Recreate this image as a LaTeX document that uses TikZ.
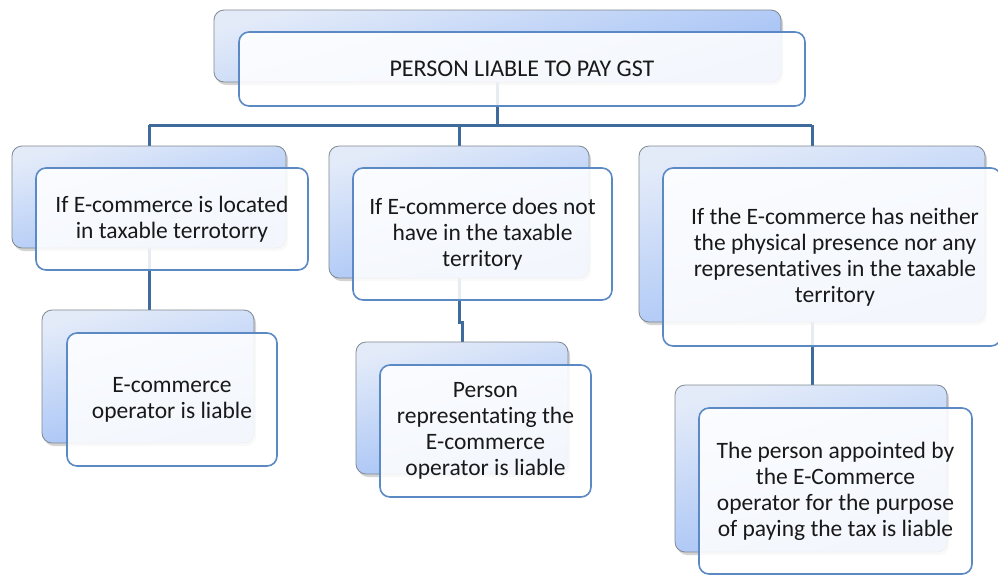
\documentclass[tikz,border=0pt]{standalone}
\usepackage{fontspec}
\setmainfont[Ligatures={NoCommon}]{Carlito}
\usetikzlibrary{shadows,backgrounds}
\definecolor{linkblue}{HTML}{3E6A9C}
\definecolor{frontedge}{HTML}{5B89C4}
\definecolor{backtop}{HTML}{E3EBF9}
\definecolor{backbot}{HTML}{9FBEF5}
\definecolor{backedge}{HTML}{808890}
\tikzset{
  backbox/.style={rectangle, rounded corners=10pt, draw=backedge, line width=0.8pt,
    top color=backtop, bottom color=backbot, shading angle=15,
    drop shadow={shadow xshift=2pt, shadow yshift=-3pt, opacity=0.35}},
  frontbox/.style={rectangle, rounded corners=10pt, draw=frontedge, line width=1.6pt,
    fill=white, fill opacity=0.88, text opacity=1, align=center, inner sep=1pt,
    font=\fontsize{23.5}{26}\selectfont, text=black!90},
  link/.style={draw=linkblue, line width=3pt}
}
\begin{document}
\begin{tikzpicture}[x=1pt,y=-1pt]
\useasboundingbox (0,0) rectangle (998,574);
% back boxes
\node[backbox, minimum width=567pt, minimum height=72pt] (b0) at (497.5,46) {};
\node[backbox, minimum width=274pt, minimum height=102pt] (b1) at (149,197) {};
\node[backbox, minimum width=260pt, minimum height=132pt] (b2) at (459,212) {};
\node[backbox, minimum width=346pt, minimum height=176pt] (b3) at (812,234) {};
\node[backbox, minimum width=212pt, minimum height=133pt] (b4) at (148,376.5) {};
\node[backbox, minimum width=212pt, minimum height=132pt] (b5) at (462,408) {};
\node[backbox, minimum width=272pt, minimum height=167pt] (b6) at (811,468.5) {};
% front boxes
\node[frontbox, minimum width=566pt, minimum height=74pt, font=\fontsize{24}{26}\selectfont] (f0) at (522,69) {PERSON LIABLE TO PAY GST};
\node[frontbox, minimum width=272pt, minimum height=102pt] (f1) at (172,219) {If E-commerce is located\\in taxable terrotorry};
\node[frontbox, minimum width=259pt, minimum height=132pt] (f2) at (482.5,234) {If E-commerce does not\\have in the taxable\\territory};
\node[frontbox, minimum width=338pt, minimum height=178pt] (f3) at (832,257) {\hspace*{6pt}If the E-commerce has neither\\\hspace*{6pt}the physical presence nor any\\\hspace*{6pt}representatives in the taxable\\\hspace*{6pt}territory};
\node[frontbox, minimum width=210pt, minimum height=133pt] (f4) at (172,399.5) {E-commerce\\operator is liable};
\node[frontbox, minimum width=211pt, minimum height=132pt] (f5) at (485.5,431) {Person\\representating the\\E-commerce\\operator is liable};
\node[frontbox, minimum width=273pt, minimum height=166pt] (f6) at (835.5,491) {The person appointed by\\the E-Commerce\\operator for the purpose\\of paying the tax is liable};
% connectors
\begin{pgfonlayer}{background}
\coordinate (bar) at (0,125);
\draw[link] (b0.south) -- (b0.south |- bar);
\draw[link] (b1.north |- bar) -- (b3.north |- bar);
\draw[link] (b1.north |- bar) -- (b1.north);
\draw[link] (b2.north |- bar) -- (b2.north);
\draw[link] (b3.north |- bar) -- (b3.north);
\draw[link] (b1.south) -- (b1.south |- b4.north);
\coordinate (jog) at (0,322);
\draw[link] (b2.south) -- (b2.south |- jog) -| (b5.north);
\draw[link] (b3.south) -- (b3.south |- b6.north);
\end{pgfonlayer}
\end{tikzpicture}
\end{document}
